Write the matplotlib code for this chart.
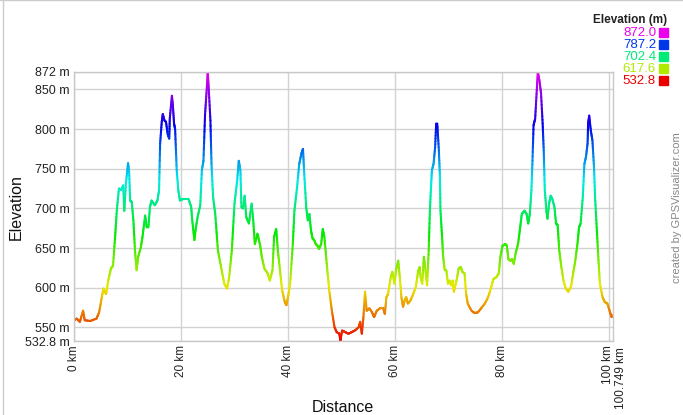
import numpy as np
import matplotlib
matplotlib.use("Agg")
import matplotlib.pyplot as plt
import matplotlib.transforms as mtransforms
from matplotlib.collections import LineCollection
from matplotlib.colors import hsv_to_rgb, LinearSegmentedColormap

plt.rcParams['font.family'] = ['Liberation Sans', 'DejaVu Sans']

# profile (km, m)
km = [0.0, 0.5, 1.1, 1.7, 2.0, 3.0, 4.2, 4.7, 5.2, 5.5, 6.0, 6.4, 6.9, 7.3, 7.7, 8.0,
      8.4, 8.8, 9.2, 9.4, 9.7, 10.1, 10.3, 10.5, 10.8, 11.1, 11.4, 11.7, 12.0, 12.5,
      12.8, 13.3, 13.6, 13.9, 14.2, 14.5, 15.1, 15.6, 15.9, 16.1, 16.4, 16.6, 16.9,
      17.2, 17.5, 17.8, 17.9, 18.3, 18.5, 18.7, 18.9, 19.2, 19.5, 19.8, 20.4, 21.4,
      21.9, 22.1, 22.5, 22.7, 23.1, 23.6, 23.9, 24.2, 24.5, 24.8, 25.0, 25.2, 25.5,
      25.7, 26.0, 26.4, 26.9, 27.6, 28.1, 28.6, 29.0, 29.5, 30.0, 30.5, 30.8, 31.1,
      31.3, 31.6, 31.9, 32.2, 32.7, 33.2, 33.5, 33.8, 34.3, 34.8, 35.1, 35.6, 36.2,
      36.6, 37.1, 37.4, 37.8, 38.1, 38.5, 38.9, 39.4, 39.7, 40.1, 40.4, 40.9, 41.2,
      41.7, 42.1, 42.5, 42.8, 43.0, 43.4, 43.7, 44.0, 44.3, 44.6, 44.9, 45.2, 45.5,
      45.8, 46.2, 46.5, 46.8, 47.3, 47.7, 48.2, 48.7, 49.1, 49.6, 49.8, 50.1, 50.7,
      51.3, 51.9, 52.5, 53.2, 53.5, 53.8, 54.1, 54.4, 54.7, 55.2, 55.7, 56.1, 56.6,
      57.2, 57.8, 58.1, 58.4, 58.7, 59.2, 59.5, 59.9, 60.2, 60.6, 60.9, 61.2, 61.5,
      61.8, 62.1, 62.4, 62.9, 63.4, 63.9, 64.3, 64.6, 64.8, 65.1, 65.4, 65.7, 66.0,
      66.3, 66.5, 66.7, 66.9, 67.2, 67.5, 67.7, 67.9, 68.2, 68.4, 68.5, 68.8, 69.0,
      69.3, 69.6, 69.9, 70.2, 70.5, 70.8, 71.0, 71.5, 71.9, 72.3, 72.6, 73.0, 73.3,
      73.6, 74.3, 74.9, 75.5, 76.1, 76.8, 77.4, 78.0, 78.4, 78.9, 79.4, 79.7, 80.1,
      80.6, 80.9, 81.2, 81.6, 81.9, 82.2, 82.6, 83.0, 83.4, 83.7, 84.2, 84.6, 84.9,
      85.2, 85.5, 85.7, 85.9, 86.2, 86.5, 86.7, 87.0, 87.3, 87.6, 87.8, 88.0, 88.3,
      88.5, 88.8, 89.1, 89.4, 89.8, 90.1, 90.4, 90.7, 91.1, 91.5, 91.9, 92.4, 92.9,
      93.3, 93.7, 94.1, 94.4, 94.7, 95.1, 95.4, 95.7, 96.0, 96.1, 96.3, 96.6, 96.9,
      97.2, 97.4, 97.7, 98.0, 98.3, 98.8, 99.2, 99.7, 100.2, 100.5, 100.749]
elev = [559, 561, 557, 571, 559, 558, 561, 569, 588, 599, 592, 609, 624, 628, 666, 697,
        725, 723, 729, 697, 731, 757, 746, 710, 708, 685, 647, 622, 639, 651,
        664, 691, 676, 676, 702, 710, 704, 710, 723, 782, 809, 819, 811,
        809, 794, 788, 813, 842, 828, 807, 800, 748, 723, 710, 712, 712,
        702, 685, 660, 672, 689, 704, 748, 760, 819, 849, 872, 849, 811,
        756, 714, 693, 647, 622, 605, 599, 613, 647, 706, 735, 760, 748,
        702, 700, 716, 689, 681, 706, 685, 655, 668, 653, 639, 624, 618,
        609, 622, 664, 674, 647, 622, 597, 582, 578, 592, 605, 655, 697,
        727, 756, 769, 775, 748, 702, 685, 693, 672, 662, 660, 655, 653,
        649, 655, 674, 664, 626, 597, 571, 550, 544, 542, 533, 546, 544,
        542, 544, 546, 550, 557, 542, 563, 595, 571, 574, 569, 563, 571,
        574, 574, 567, 588, 592, 613, 620, 605, 622, 634, 613, 588, 576,
        584, 588, 580, 584, 592, 601, 620, 626, 613, 605, 639, 622, 603,
        647, 693, 723, 748, 756, 777, 807, 807, 773, 740, 697, 664, 639,
        622, 622, 605, 609, 603, 609, 595, 609, 624, 626, 620, 618, 592,
        580, 571, 568, 569, 574, 580, 588, 601, 611, 613, 618, 639, 653,
        655, 653, 636, 634, 636, 630, 645, 655, 676, 693, 697, 693, 681,
        693, 723, 760, 805, 813, 849, 872, 861, 845, 807, 773, 723, 697,
        687, 706, 716, 712, 702, 681, 679, 647, 626, 609, 599, 595, 601,
        618, 634, 655, 676, 681, 714, 756, 765, 782, 807, 817, 798, 786,
        752, 714, 676, 639, 605, 588, 582, 580, 569, 563, 565]

y_min, y_max = 532.8, 872.0
legend_vals = [872.0, 787.2, 702.4, 617.6, 532.8]
ytick_vals = [532.8, 550, 600, 650, 700, 750, 800, 850, 872]
xtick_vals = [0, 20, 40, 60, 80, 100]
x_end = 100.749

# red -> yellow -> green -> cyan -> blue -> magenta
hues = np.linspace(0, 300 / 360, 64)
cols = hsv_to_rgb(np.column_stack([hues, np.ones_like(hues), np.full_like(hues, 0.92)]))
cmap = LinearSegmentedColormap.from_list('elev', cols)
norm = plt.Normalize(y_min, y_max)

fig = plt.figure(figsize=(6.83, 4.15), dpi=100)
ax = fig.add_axes([74 / 683, 1 - 341 / 415, 539 / 683, 269 / 415])

# split each segment finer so the colour runs smoothly along the line
xs, ys = [], []
for i in range(len(km) - 1):
    t = np.linspace(0, 1, 9)
    xs.append(km[i] + (km[i + 1] - km[i]) * t)
    ys.append(elev[i] + (elev[i + 1] - elev[i]) * t)
xs = np.concatenate(xs)
ys = np.concatenate(ys)
pts = np.column_stack([xs, ys]).reshape(-1, 1, 2)
segs = np.concatenate([pts[:-1], pts[1:]], axis=1)
lc = LineCollection(segs, cmap=cmap, norm=norm, linewidth=1.5, capstyle='round')
lc.set_array((ys[:-1] + ys[1:]) / 2)
ax.add_collection(lc)

ax.set_xlim(0, x_end)
ax.set_ylim(y_min, y_max)

ax.set_yticks(ytick_vals)
ax.set_yticklabels([f'{v:g} m' for v in ytick_vals], fontsize=9, color='#222222')
ax.set_xticks(xtick_vals)
ax.set_xticklabels([f'{v} km' for v in xtick_vals], rotation=90, fontsize=8.5,
                   color='#222222', va='top', ha='center')
ax.tick_params(length=0, pad=3)
# the last label sits a bit to the right so it does not hit "100 km"
ax.get_xticklabels()[-1].set_transform(
    ax.get_xticklabels()[-1].get_transform() + mtransforms.ScaledTranslation(-1 / 100, 0, fig.dpi_scale_trans))
ax.text(x_end, -0.022, '100.749 km', rotation=90, fontsize=8.5, color='#222222',
        va='top', ha='center',
        transform=ax.get_xaxis_transform() + mtransforms.ScaledTranslation(8 / 100, 0, fig.dpi_scale_trans))

ax.grid(True, color='#d2d2d2', linewidth=1.0)
ax.set_axisbelow(True)
for s in ax.spines.values():
    s.set_color('#c8c8c8')
    s.set_linewidth(1.0)

fig.text(16 / 683, 1 - 207 / 415, 'Elevation', rotation=90, fontsize=11.5,
         ha='center', va='center', color='#111111')
fig.text(343 / 683, 1 - 407 / 415, 'Distance', fontsize=11.5,
         ha='center', va='center', color='#111111')

# legend on the top right
fig.text(667 / 683, 1 - 20 / 415, 'Elevation (m)', fontsize=8.5, fontweight='bold',
         ha='right', va='center', color='#222222')
for i, v in enumerate(legend_vals):
    yc = 1 - (33 + i * 12) / 415
    c = cmap(norm(v))
    fig.text(656 / 683, yc, f'{v:.1f}', fontsize=9.5, ha='right', va='center', color=c)
    fig.patches.append(plt.Rectangle((659 / 683, yc - 4.5 / 415), 9 / 683, 9 / 415,
                                     transform=fig.transFigure, color=c, figure=fig))

fig.text(677 / 683, 1 - 208 / 415, 'created by GPSVisualizer.com', rotation=90,
         fontsize=8, ha='center', va='center', color='#888888')

# thin frame on the left and top of the image
fig.add_artist(plt.Line2D([2.5 / 683, 2.5 / 683], [0, 1], color='#cccccc', lw=1, transform=fig.transFigure))
fig.add_artist(plt.Line2D([0, 1], [1 - 0.5 / 415, 1 - 0.5 / 415], color='#cccccc', lw=1, transform=fig.transFigure))

fig.savefig('out.png', dpi=100)
